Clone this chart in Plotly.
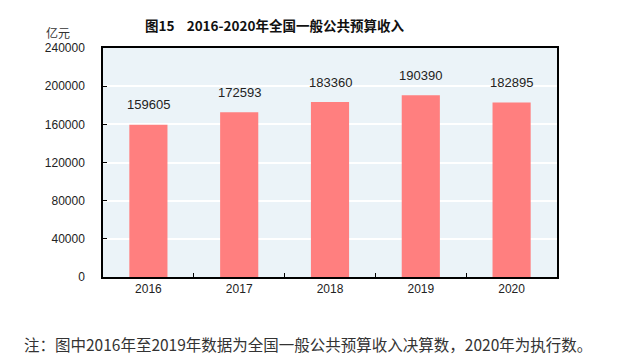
import plotly.graph_objects as go

years = [2016, 2017, 2018, 2019, 2020]
year_labels = ["2016", "2017", "2018", "2019", "2020"]
values = [159605, 172593, 183360, 190390, 182895]
y_ticks = [0, 40000, 80000, 120000, 160000, 200000, 240000]
title_text = "图15&nbsp;&nbsp;&nbsp;&nbsp;2016-2020年全国一般公共预算收入"
unit_text = "亿元"
note_text = "注：图中2016年至2019年数据为全国一般公共预算收入决算数，2020年为执行数。"

num_font = "Liberation Sans, Arial, sans-serif"
cjk_font = "Noto Sans CJK SC, sans-serif"

# page has an 8px body margin; figure sized to fill 617x362 view
W, H = 609, 354
ML, MR, MT, MB = 95, 60, 40, 85
PW = W - ML - MR
PL = 8 + ML  # plot left in page px


def px_to_paper_x(px):
    return (px - PL) / PW


fig = go.Figure()
fig.add_trace(go.Bar(
    x=years, y=values, width=0.42,
    marker=dict(color="#FF7F7F", line=dict(width=0)),
    hoverinfo="skip",
))
fig.add_trace(go.Scatter(x=[years[0], years[-1]], y=[0, 0], xaxis="x2",
                         mode="markers", marker=dict(opacity=0), hoverinfo="skip",
                         showlegend=False))

for x, v in zip(years, values):
    fig.add_annotation(x=x, y=v, text=str(v), showarrow=False, yshift=20,
                       yanchor="middle", xanchor="center",
                       font=dict(family=num_font, size=13, color="#222"))

fig.update_layout(
    width=W, height=H,
    margin=dict(l=ML, r=MR, t=MT, b=MB),
    paper_bgcolor="white", plot_bgcolor="#EBF3F8",
    showlegend=False,
    xaxis=dict(
        range=[2015.5, 2020.5], tickvals=years, ticktext=year_labels,
        ticks="", showgrid=False, zeroline=False,
        showline=True, linecolor="black", linewidth=1.5, mirror=True,
        tickfont=dict(family=num_font, size=12, color="#222"),
    ),
    xaxis2=dict(
        range=[2015.5, 2020.5], overlaying="x",
        tickvals=[2016.5, 2017.5, 2018.5, 2019.5], ticks="inside", ticklen=4,
        tickcolor="black", showticklabels=False, showgrid=False, zeroline=False,
        showline=False, anchor="y", side="bottom",
    ),
    yaxis=dict(
        range=[0, 240000], tickvals=y_ticks, ticktext=[str(t) for t in y_ticks],
        ticks="inside", ticklen=4, tickcolor="black",
        showgrid=True, gridcolor="white", gridwidth=1.5, zeroline=False,
        showline=True, linecolor="black", linewidth=1.5, mirror=True,
        tickfont=dict(family=num_font, size=12, color="#222"),
        ticklabelstandoff=14,
    ),
    font=dict(family=cjk_font),
)

fig.add_annotation(xref="paper", yref="paper", x=px_to_paper_x(274), xanchor="center",
                   y=1, yanchor="middle", yshift=23, text=title_text, showarrow=False,
                   font=dict(family=cjk_font, size=13.5, color="#111", weight="bold"))
fig.add_annotation(xref="paper", yref="paper", x=px_to_paper_x(58), xanchor="center",
                   y=1, yanchor="middle", yshift=16, text=unit_text, showarrow=False,
                   font=dict(family=cjk_font, size=12, color="#333"))
fig.add_annotation(xref="paper", yref="paper", x=px_to_paper_x(22), xanchor="left",
                   y=0, yanchor="middle", yshift=-67, text=note_text, showarrow=False,
                   font=dict(family=cjk_font, size=15.5, color="#333"))

fig.write_html("out.html")
